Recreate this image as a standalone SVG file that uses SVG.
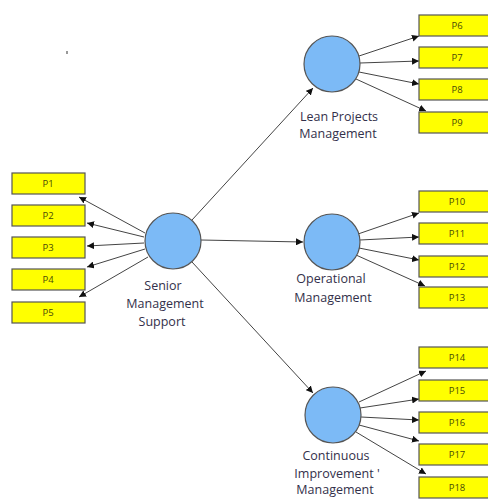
<svg xmlns="http://www.w3.org/2000/svg" width="488" height="499" viewBox="0 0 488 499">
<defs>
<marker id="ah" viewBox="0 0 10 10" refX="10" refY="5" markerWidth="7" markerHeight="7" markerUnits="userSpaceOnUse" orient="auto">
<path d="M0,0 L10,5 L0,10 z" fill="#111"/>
</marker>
<style>
.box{fill:#ffff00;stroke:#555;stroke-width:1.2}
.bt{font-family:"Open Sans","Liberation Sans",sans-serif;font-size:9.5px;fill:#4a4a08;text-anchor:middle}
.cir{fill:#7cbaf6;stroke:#555;stroke-width:1.2}
.lbl{font-family:"Open Sans","Liberation Sans",sans-serif;font-size:12.5px;fill:#33304a;text-anchor:middle}
.ln{stroke:#444;stroke-width:1;fill:none;marker-end:url(#ah)}
</style>
</defs>
<rect width="488" height="499" fill="#fff"/>
<rect x="66" y="51" width="2" height="3" fill="#999"/>
<g id="connectors">
<line class="ln" x1="145" y1="233" x2="79" y2="197"/>
<line class="ln" x1="144" y1="237" x2="87" y2="223"/>
<line class="ln" x1="144" y1="243" x2="87" y2="246"/>
<line class="ln" x1="145" y1="249" x2="87" y2="267"/>
<line class="ln" x1="148" y1="257" x2="79" y2="297"/>
<line class="ln" x1="192" y1="220" x2="313" y2="88"/>
<line class="ln" x1="201" y1="240" x2="303" y2="242"/>
<line class="ln" x1="192" y1="262" x2="313" y2="393"/>
<line class="ln" x1="359" y1="56" x2="419" y2="36"/>
<line class="ln" x1="360" y1="63" x2="419" y2="61"/>
<line class="ln" x1="359" y1="72" x2="419" y2="84"/>
<line class="ln" x1="356" y1="79" x2="426" y2="111"/>
<line class="ln" x1="358" y1="234" x2="419" y2="213"/>
<line class="ln" x1="360" y1="240" x2="419" y2="237"/>
<line class="ln" x1="359" y1="248" x2="419" y2="260"/>
<line class="ln" x1="356" y1="255" x2="425" y2="286"/>
<line class="ln" x1="359" y1="402" x2="426" y2="371"/>
<line class="ln" x1="360" y1="408" x2="419" y2="399"/>
<line class="ln" x1="361" y1="417" x2="419" y2="420"/>
<line class="ln" x1="359" y1="425" x2="419" y2="441"/>
<line class="ln" x1="356" y1="432" x2="426" y2="474"/>
</g>
<g id="senior"><circle class="cir" cx="173" cy="241" r="28"/>
<text class="lbl" x="163" y="290">Senior</text><text class="lbl" x="165" y="308">Management</text><text class="lbl" x="162" y="326">Support</text></g>
<g id="lean"><circle class="cir" cx="332" cy="64" r="28"/>
<text class="lbl" x="339" y="121">Lean Projects</text><text class="lbl" x="338" y="138">Management</text></g>
<g id="operational"><circle class="cir" cx="332" cy="242" r="28"/>
<text class="lbl" x="331" y="283">Operational</text><text class="lbl" x="333" y="302">Management</text></g>
<g id="continuous"><circle class="cir" cx="333" cy="415" r="28"/>
<text class="lbl" x="336" y="460">Continuous</text><text class="lbl" x="337" y="478">Improvement '</text><text class="lbl" x="335" y="494">Management</text></g>
<g id="p1"><rect class="box" x="12" y="173" width="73" height="21"/><text class="bt" x="48" y="187">P1</text></g>
<g id="p2"><rect class="box" x="12" y="205" width="73" height="21"/><text class="bt" x="48" y="219">P2</text></g>
<g id="p3"><rect class="box" x="12" y="237" width="73" height="21"/><text class="bt" x="48" y="251">P3</text></g>
<g id="p4"><rect class="box" x="12" y="269" width="73" height="21"/><text class="bt" x="48" y="283">P4</text></g>
<g id="p5"><rect class="box" x="12" y="302" width="73" height="21"/><text class="bt" x="48" y="316">P5</text></g>
<g id="p6"><rect class="box" x="419" y="15" width="76" height="21"/><text class="bt" x="457" y="29">P6</text></g>
<g id="p7"><rect class="box" x="419" y="47" width="76" height="21"/><text class="bt" x="457" y="61">P7</text></g>
<g id="p8"><rect class="box" x="419" y="79" width="76" height="21"/><text class="bt" x="457" y="93">P8</text></g>
<g id="p9"><rect class="box" x="419" y="112" width="76" height="21"/><text class="bt" x="457" y="126">P9</text></g>
<g id="p10"><rect class="box" x="419" y="191" width="76" height="21"/><text class="bt" x="457" y="205">P10</text></g>
<g id="p11"><rect class="box" x="419" y="223" width="76" height="21"/><text class="bt" x="457" y="237">P11</text></g>
<g id="p12"><rect class="box" x="419" y="256" width="76" height="21"/><text class="bt" x="457" y="270">P12</text></g>
<g id="p13"><rect class="box" x="419" y="287" width="76" height="21"/><text class="bt" x="457" y="301">P13</text></g>
<g id="p14"><rect class="box" x="419" y="347" width="76" height="21"/><text class="bt" x="457" y="361">P14</text></g>
<g id="p15"><rect class="box" x="419" y="380" width="76" height="21"/><text class="bt" x="457" y="394">P15</text></g>
<g id="p16"><rect class="box" x="419" y="412" width="76" height="21"/><text class="bt" x="457" y="426">P16</text></g>
<g id="p17"><rect class="box" x="419" y="444" width="76" height="21"/><text class="bt" x="457" y="458">P17</text></g>
<g id="p18"><rect class="box" x="419" y="477" width="76" height="21"/><text class="bt" x="457" y="491">P18</text></g>
</svg>
